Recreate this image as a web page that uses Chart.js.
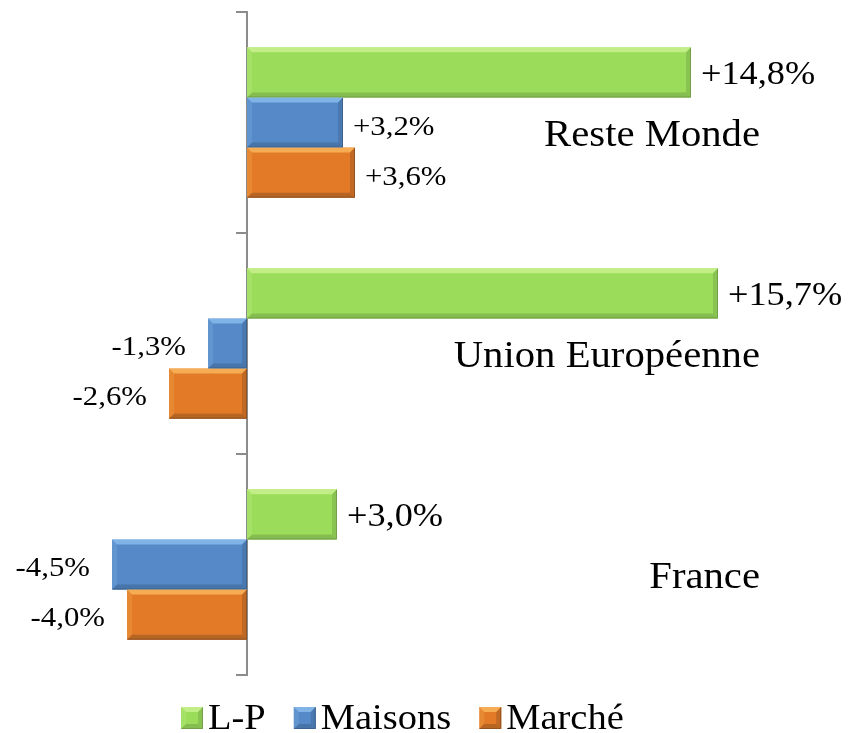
<!DOCTYPE html>
<html>
<head>
<meta charset="utf-8">
<script src="https://cdn.jsdelivr.net/npm/chart.js@4"></script>
<style>
  body { margin: 0; background: #fff; }
  #wrap { width: 868px; height: 733px; }
</style>
</head>
<body>
<div id="wrap"><canvas id="evo" width="868" height="733"></canvas></div>
<script>
// categories and series (variation in %)
var regions = ['Reste Monde', 'Union Européenne', 'France'];
var seriesNames = ['L-P', 'Maisons', 'Marché'];
var lpValues = [14.8, 15.7, 3.0];
var maisonsValues = [3.2, -1.3, -4.5];
var marcheValues = [3.6, -2.6, -4.0];

// main / light / dark tone of each series
var mainColors = ['#9cdc5b', '#5589c7', '#e27a27'];
var lightColors = ['#d4f59a', '#93c6f5', '#ffc266'];
var darkColors = ['#6f9d45', '#3a5f8c', '#8c5020'];

var FONT = '"Liberation Serif", "Times New Roman", serif';
var SX = 1.1; // the original text is a little wider than it is tall

function fmt(v) {
    var s = Math.abs(v).toFixed(1).replace('.', ',');
    return (v >= 0 ? '+' : '-') + s + '%';
}

function wideText(ctx, txt, x, y, align, size) {
    ctx.save();
    ctx.font = size + 'px ' + FONT;
    ctx.fillStyle = '#000';
    ctx.textAlign = align;
    ctx.textBaseline = 'alphabetic';
    ctx.translate(x, y);
    ctx.scale(SX, 1);
    ctx.fillText(txt, 0, 0);
    ctx.restore();
}

function poly(ctx, pts, color) {
    ctx.beginPath();
    ctx.moveTo(pts[0][0], pts[0][1]);
    for (var i = 1; i < pts.length; i++) ctx.lineTo(pts[i][0], pts[i][1]);
    ctx.closePath();
    ctx.fillStyle = color;
    ctx.fill();
}

// bevelled edges, the look of the original 3D bars
function bevel(ctx, l, t, r, b, k, bw) {
    var w = Math.min(bw, (r - l) / 2, (b - t) / 2);
    ctx.save();
    ctx.globalAlpha = 0.7;
    poly(ctx, [[l, t], [r, t], [r - w, t + w], [l + w, t + w]], lightColors[k]);
    ctx.globalAlpha = 0.2;
    poly(ctx, [[l, t], [l + w, t + w], [l + w, b - w], [l, b]], lightColors[k]);
    ctx.globalAlpha = 0.4;
    poly(ctx, [[r, t], [r, b], [r - w, b - w], [r - w, t + w]], darkColors[k]);
    ctx.globalAlpha = 0.5;
    poly(ctx, [[l, b], [l + w, b - w], [r - w, b - w], [r, b]], darkColors[k]);
    ctx.globalAlpha = 0.9;
    ctx.strokeStyle = darkColors[k];
    ctx.lineWidth = 1;
    ctx.beginPath();
    ctx.moveTo(l + 0.5, b - 0.5);
    ctx.lineTo(r - 0.5, b - 0.5);
    ctx.lineTo(r - 0.5, t + 0.5);
    ctx.stroke();
    ctx.restore();
}

var barDecor = {
    id: 'barDecor',
    afterDatasetsDraw: function(chart) {
        var ctx = chart.ctx;
        chart.data.datasets.forEach(function(ds, k) {
            var meta = chart.getDatasetMeta(k);
            meta.data.forEach(function(el, i) {
                var p = el.getProps(['x', 'y', 'base', 'height'], true);
                var l = Math.min(p.x, p.base), r = Math.max(p.x, p.base);
                var t = p.y - p.height / 2, b = p.y + p.height / 2;
                bevel(ctx, l, t, r, b, k, 5);
                var v = ds.data[i];
                var size = k == 0 ? 33 : 28;
                if (v >= 0) {
                    wideText(ctx, fmt(v), p.x + 10, p.y + 12, 'left', size);
                } else {
                    wideText(ctx, fmt(v), p.x - 22, p.y + 11, 'right', size);
                }
            });
        });
    },
    afterDraw: function(chart) {
        var ctx = chart.ctx;
        var yScale = chart.scales.y;
        var area = chart.chartArea;
        // region names, right side of the plot
        regions.forEach(function(name, i) {
            wideText(ctx, name, area.right - 87, yScale.getPixelForValue(i) + 23, 'right', 37);
        });
        // legend
        var x = 181, top = 707, box = 22;
        ctx.save();
        seriesNames.forEach(function(name, k) {
            ctx.fillStyle = mainColors[k];
            ctx.fillRect(x, top, box, box);
            bevel(ctx, x, top, x + box, top + box, k, 5);
            wideText(ctx, name, x + box + 5, 729, 'left', 35);
            ctx.font = '35px ' + FONT;
            x += box + 5 + ctx.measureText(name).width * SX + 28;
        });
        ctx.restore();
    }
};

var ctx = document.getElementById('evo').getContext('2d');

var chart1 = new Chart(ctx, {
    type: 'bar',
    data: {
        labels: regions,
        datasets: [
            { label: seriesNames[0], data: lpValues, backgroundColor: mainColors[0] },
            { label: seriesNames[1], data: maisonsValues, backgroundColor: mainColors[1] },
            { label: seriesNames[2], data: marcheValues, backgroundColor: mainColors[2] }
        ]
    },
    options: {
        indexAxis: 'y',
        responsive: false,
        animation: false,
        devicePixelRatio: 1,
        layout: { padding: { left: 97, right: 21, top: 12, bottom: 58 } },
        datasets: {
            bar: { categoryPercentage: 0.68, barPercentage: 1.0, borderWidth: 0 }
        },
        plugins: {
            legend: { display: false },
            tooltip: { enabled: false }
        },
        scales: {
            x: { display: false, min: -5, max: 20 },
            y: {
                position: { x: 0 },
                ticks: { display: false },
                grid: {
                    offset: true,
                    drawOnChartArea: false,
                    drawTicks: true,
                    tickLength: 10,
                    color: '#8c8c8c',
                    lineWidth: 2
                },
                border: { display: true, color: '#8c8c8c', width: 2 }
            }
        }
    },
    plugins: [barDecor]
});
</script>
</body>
</html>
